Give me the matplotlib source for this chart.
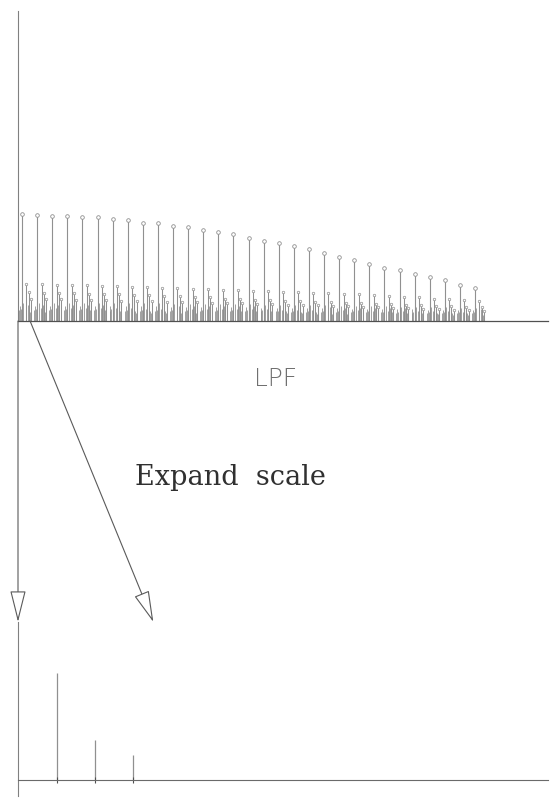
import numpy as np
import matplotlib
matplotlib.use("Agg")
import matplotlib.pyplot as plt
from matplotlib.patches import FancyArrowPatch
from matplotlib.transforms import IdentityTransform

# ---- spectrum data (top panel: full band, harmonic groups) ----
# main line of each harmonic group, normalised to the first one
main_amp = [1.00, 0.99, 0.98, 0.98, 0.97, 0.97, 0.95, 0.94, 0.92, 0.92,
            0.89, 0.88, 0.85, 0.83, 0.81, 0.78, 0.75, 0.73, 0.70, 0.67,
            0.64, 0.60, 0.57, 0.53, 0.50, 0.48, 0.44, 0.41, 0.38, 0.34, 0.31]
# first, second and third side lines of each group
side1_amp = [0.35, 0.35, 0.34, 0.34, 0.34, 0.33, 0.33, 0.32, 0.32, 0.31,
             0.31, 0.30, 0.30, 0.29, 0.29, 0.28, 0.28, 0.27, 0.27, 0.26,
             0.26, 0.25, 0.25, 0.24, 0.23, 0.22, 0.22, 0.21, 0.21, 0.20, 0.19]
side2_amp = [0.27, 0.26, 0.26, 0.26, 0.25, 0.25, 0.25, 0.24, 0.24, 0.23,
             0.23, 0.22, 0.22, 0.21, 0.21, 0.20, 0.20, 0.19, 0.19, 0.18,
             0.18, 0.17, 0.17, 0.16, 0.16, 0.15, 0.15, 0.14, 0.14, 0.13, 0.13]
side3_amp = [0.21, 0.21, 0.21, 0.20, 0.20, 0.20, 0.19, 0.19, 0.19, 0.18,
             0.18, 0.18, 0.17, 0.17, 0.17, 0.16, 0.16, 0.15, 0.15, 0.15,
             0.14, 0.14, 0.13, 0.13, 0.12, 0.12, 0.11, 0.11, 0.10, 0.10, 0.09]
# low-level lines filling each group
low_offsets = [0.06, 0.12, 0.19, 0.36, 0.50, 0.56, 0.66, 0.74, 0.82]
low_amp = [0.10, 0.14, 0.11, 0.17, 0.12, 0.09, 0.15, 0.10, 0.08]

group_pos = np.arange(len(main_amp)) + 0.27     # group index on the top axis
side_offsets = [0.29, 0.43, 0.58]

# ---- expanded view (bottom panel) ----
exp_harm = [1, 2, 3]
exp_amp = [1.00, 0.37, 0.23]

LINE = "#909090"
AXIS = "#505050"

W, H = 556, 803
fig = plt.figure(figsize=(W / 100, H / 100), dpi=100)
fig.patch.set_facecolor("white")


def frac_rect(x0, y_top, x1, y_bot):
    return [x0 / W, 1 - y_bot / H, (x1 - x0) / W, (y_bot - y_top) / H]


# top panel: baseline at y=322 px, axis up to y=12 px
ax = fig.add_axes(frac_rect(18, 12, 548, 322))
ax.set_xlim(0, 530 / 15.1)
ax.set_ylim(0, 310 / 107)

for g, a0, a1, a2, a3 in zip(group_pos, main_amp, side1_amp, side2_amp, side3_amp):
    ax.vlines(g, 0, a0, color=LINE, lw=0.8)
    ax.plot([g], [a0], marker="o", ms=2.6, mfc="white", mec=LINE, mew=0.6)
    for off, a in zip(side_offsets, (a1, a2, a3)):
        ax.vlines(g + off, 0, a, color=LINE, lw=0.75)
        ax.plot([g + off], [a], marker="o", ms=1.8, mfc="white", mec=LINE, mew=0.5)
    scale = 0.6 + 0.4 * a0
    for off, a in zip(low_offsets, low_amp):
        ax.vlines(g - 0.27 + off, 0, a * scale, color=LINE, lw=0.6)

for s in ("top", "right"):
    ax.spines[s].set_visible(False)
ax.spines["left"].set_color("#808080")
ax.spines["left"].set_linewidth(0.8)
ax.spines["bottom"].set_color(AXIS)
ax.spines["bottom"].set_linewidth(0.9)
ax.set_xticks([])
ax.set_yticks([])
ax.patch.set_alpha(0)

# bottom panel: baseline at y=781 px
X0 = -0.04
bx = fig.add_axes(frac_rect(18, 623, 548, 797))
bx.set_xlim(X0, 530 / 37.7 + X0)
Y_TOP = (781 - 623) / 107
bx.set_ylim(-16 / 107, Y_TOP)
bx.vlines(exp_harm, 0, exp_amp, color=LINE, lw=0.9)
bx.plot(exp_harm, [0] * len(exp_harm), ls="none", marker="|", ms=4, color=AXIS, mew=0.8)
for s in ("top", "right"):
    bx.spines[s].set_visible(False)
bx.spines["bottom"].set_position(("data", 0))
bx.spines["bottom"].set_color("#6a6a6a")
bx.spines["bottom"].set_linewidth(0.8)
bx.spines["left"].set_color("#808080")
bx.spines["left"].set_linewidth(0.8)
bx.set_xticks([])
bx.set_yticks([])
bx.patch.set_alpha(0)

# arrows from the low end of the full band to the expanded view
arrow_kw = dict(arrowstyle="-|>,head_length=2.0,head_width=0.5",
                mutation_scale=10, fc="white", ec="#5a5a5a", lw=0.8,
                shrinkA=0, shrinkB=0)
fig.canvas.draw()
for x_from, x_to in ((0.0, X0), (0.8, 3.55)):
    pa = ax.transData.transform((x_from, 0))
    pb = bx.transData.transform((x_to, Y_TOP))
    arr = FancyArrowPatch(posA=tuple(pa), posB=tuple(pb), transform=IdentityTransform(),
                          **arrow_kw)
    fig.add_artist(arr)

fig.text(276 / W, 1 - 379 / H, "LPF", ha="center", va="center",
         fontsize=18, color="#707070", family="DejaVu Sans", fontweight="light")
fig.text(230 / W, 1 - 478 / H, "Expand  scale", ha="center", va="center",
         fontsize=19.5, color="#303030", family="DejaVu Serif")

fig.savefig("out.png", dpi=100, facecolor="white")
